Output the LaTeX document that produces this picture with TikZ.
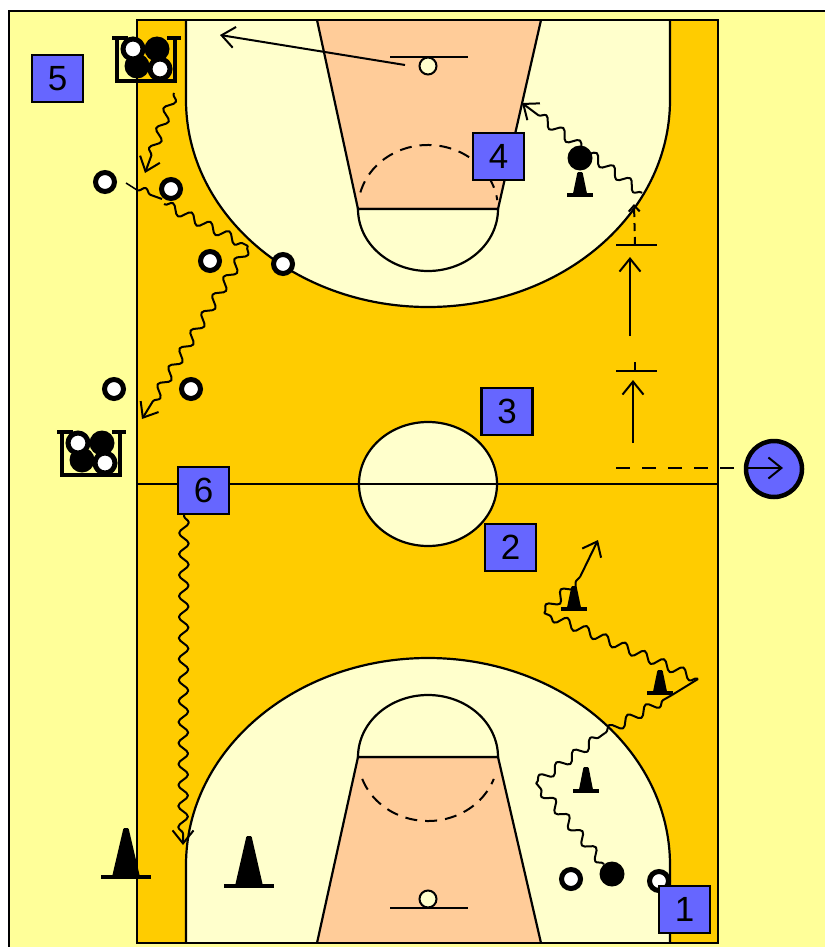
\documentclass[tikz,border=0pt]{standalone}
\usepackage{fontspec}
\setmainfont{Liberation Sans}
\usetikzlibrary{arrows.meta,decorations.pathmorphing,shapes.geometric}
\definecolor{paper}{HTML}{FFFF99}
\definecolor{court}{HTML}{FFCC00}
\definecolor{zone}{HTML}{FFFFCC}
\definecolor{keyc}{HTML}{FFCC99}
\definecolor{tag}{HTML}{6666FF}
\tikzset{
  courtline/.style={draw=black,line width=2.2pt},
  tagbox/.style={draw=black,fill=tag,line width=2.5pt,minimum width=51pt,minimum height=47pt,inner sep=0pt,font=\fontsize{35}{35}\selectfont},
  offense/.style={circle,draw=black,fill=white,line width=5pt,minimum size=19pt,inner sep=0pt},
  blackball/.style={circle,fill=black,minimum size=25pt,inner sep=0pt},
  smallwhite/.style={circle,draw=black,fill=white,line width=5pt,minimum size=20pt,inner sep=0pt},
  pass/.style={draw=black,line width=2pt,-{Straight Barb[length=13pt,width=21pt,line width=2pt]}},
  shortpass/.style={draw=black,line width=2pt,-{Straight Barb[length=6pt,width=11pt,line width=2pt]}},
  plain/.style={draw=black,line width=2pt},
  dashline/.style={draw=black,line width=2pt,dash pattern=on 14pt off 12pt},
  dribble/.style={draw=black,line width=2pt,line join=round,decorate,decoration={snake,segment length=21pt,amplitude=4.8pt,pre length=1pt,post length=2pt}},
  dribblearrow/.style={dribble,-{Straight Barb[length=13pt,width=21pt,line width=2pt]},decoration={snake,segment length=21pt,amplitude=4.8pt,pre length=1pt,post length=11pt}},
}
\newcommand{\conemark}[4]{% apex x, apex y, base y, half-width of base bar
  \fill[black,rounded corners=1pt] (#1-#4*0.56,#3) -- (#1-2.5,#2) -- (#1+2.5,#2) -- (#1+#4*0.56,#3) -- cycle;
  \draw[black,line width=4pt] (#1-#4,#3) -- (#1+#4,#3);
}
\newcommand{\basket}[3]{% x,y of the top left corner, name prefix
  \begin{scope}[shift={(#1,#2)}]
    \draw[black,line width=4.5pt] (0,0) -- (0,43) -- (58,43) -- (58,0);
    \draw[black,line width=3.5pt] (-5,0) -- (11,0) (50,0) -- (64,0);
    \node[blackball] (#3b) at (40,11) {};
    \node[blackball] (#3c) at (20,28) {};
    \node[smallwhite] (#3a) at (16,11) {};
    \node[smallwhite] (#3d) at (43,31) {};
  \end{scope}
}
\begin{document}
\begin{tikzpicture}[x=1pt,y=-1pt]
\useasboundingbox (0,0) rectangle (824,947);
\fill[white] (0,0) rectangle (824,947);
\draw[black,line width=2pt,fill=paper] (9,11) rectangle (830,955);
% court
\draw[courtline,fill=court] (137,20) rectangle (718,943);
% top three point zone
\draw[courtline,fill=zone] (186,20) -- (186,100) arc[start angle=180,end angle=360,x radius=242pt,y radius=207pt] -- (670,20);
% bottom three point zone
\draw[courtline,fill=zone] (186,943) -- (186,865) arc[start angle=180,end angle=0,x radius=242pt,y radius=207pt] -- (670,943);
% top key
\draw[courtline,fill=keyc] (317,20) -- (358,209) -- (498,209) -- (541,20);
\draw[courtline,fill=zone] (358,209) arc[start angle=180,end angle=360,x radius=70pt,y radius=62pt] -- cycle;
\draw[line width=2pt,dash pattern=on 12pt off 8pt] (428,209) ++(165:70pt and 64pt) arc[start angle=165,end angle=8,x radius=70pt,y radius=64pt];
% bottom key
\draw[courtline,fill=keyc] (317,943) -- (358,757) -- (498,757) -- (541,943);
\draw[courtline,fill=zone] (358,757) arc[start angle=180,end angle=0,x radius=70pt,y radius=62pt] -- cycle;
\draw[line width=2pt,dash pattern=on 12pt off 8pt] (428,757) ++(200:70pt and 64pt) arc[start angle=200,end angle=340,x radius=70pt,y radius=64pt];
% centre
\draw[courtline] (137,484) -- (718,484);
\draw[courtline,fill=zone] (428,484) ellipse[x radius=69pt,y radius=62pt];
\draw[courtline] (359,484) -- (497,484);
\draw[courtline] (137,20) rectangle (718,943);
% baskets
\draw[plain] (390,57) -- (468,57);
\draw[plain,fill=zone] (428,66) circle[radius=8.5pt];
\draw[plain] (390,908) -- (468,908);
\draw[plain,fill=zone] (428,899) circle[radius=8.5pt];
% cones
\conemark{126}{828}{877}{25}
\conemark{249}{836}{886}{25}
\conemark{574}{586}{609}{13}
\conemark{660}{670}{693}{13}
\conemark{586}{767}{791}{13}
\conemark{580}{172}{195}{13}
% ball bins
\basket{117}{38}{u}
\basket{62}{432}{l}
% waypoints
\coordinate (tb) at (405,65);
\coordinate (tbend) at (220,35);
\coordinate (binout) at (174,93);
\coordinate (binend) at (145,173);
\coordinate (da) at (126,183);
\coordinate (db) at (137,190);
\coordinate (dc) at (162,199);
\coordinate (e0) at (164,204);
\coordinate (e1) at (248,246);
\coordinate (e2) at (142,419);
\coordinate (f0) at (642,193);
\coordinate (f1) at (522,103);
\coordinate (h0) at (635,245);
\coordinate (h1) at (634,204);
\coordinate (t1l) at (616,245);
\coordinate (t1r) at (657,245);
\coordinate (t1u) at (635,238);
\coordinate (t2l) at (616,371);
\coordinate (t2r) at (657,371);
\coordinate (t2c) at (635,371);
\coordinate (t2u) at (635,362);
\coordinate (a1) at (630,336);
\coordinate (a2) at (630,257);
\coordinate (a3) at (633,443);
\coordinate (a4) at (633,380);
\coordinate (g0) at (616,468);
\coordinate (g1) at (745,468);
\coordinate (k1) at (536,783);
\coordinate (k2) at (605,733);
\coordinate (k3) at (672,695);
\coordinate (k4) at (698,679);
\coordinate (k5) at (544,613);
\coordinate (k6) at (580,577);
\coordinate (k7) at (598,540);
\coordinate (m0) at (184,515);
\coordinate (m1) at (183,845);
% players
\node[offense] (p1) at (105,182) {};
\node[offense] (p2) at (171,189) {};
\node[offense] (p3) at (210,261) {};
\node[offense] (p4) at (283,264) {};
\node[offense] (p5) at (114,389) {};
\node[offense] (p6) at (191,389) {};
\node[offense] (p7) at (571,879) {};
\node[offense] (p8) at (659,881) {};
\node[blackball] (b1) at (612,874) {};
\node[blackball] (b2) at (580,158) {};
% connectors
\draw[pass] (tb) -- (tbend);
\draw[dribblearrow] (binout) -- (binend);
\draw[plain,line width=1.5pt] (da) -- (db);
\draw[dribble] (db) -- (dc);
\draw[dribble] (e0) -- (e1);
\draw[dribblearrow] (e1) -- (e2);
\draw[dribblearrow] (f0) -- (f1);
\draw[shortpass,dash pattern=on 8pt off 6pt] (h0) -- (h1);
\draw[plain] (t1l) -- (t1r) (t1u) -- (h0);
\draw[plain] (t2l) -- (t2r) (t2u) -- (t2c);
\draw[pass] (a1) -- (a2);
\draw[pass] (a3) -- (a4);
\draw[dashline] (g0) -- (g1);
\draw[dribble] (b1) -- (k1);
\draw[dribble] (k1) -- (k2);
\draw[dribble] (k2) -- (k3);
\draw[plain] (k3) -- (k4);
\draw[dribble] (k4) -- (k5);
\draw[dribble] (k5) -- (k6);
\draw[pass] (k6) -- (k7);
\draw[dribblearrow] (m0) -- (m1);
% coach ball
\node[circle,draw=black,fill=tag,line width=4.5pt,minimum size=56pt,inner sep=0pt] (coach) at (774,469) {};
\coordinate (g2) at (783,468);
\draw[pass] (g1) -- (g2);
% number tags
\node[tagbox] (n5) at (57.5,78.5) {5};
\node[tagbox] (n4) at (498.5,156.5) {4};
\node[tagbox] (n3) at (507,411.5) {3};
\node[tagbox] (n6) at (203.5,490.5) {6};
\node[tagbox] (n2) at (510.5,547.5) {2};
\node[tagbox] (n1) at (684.5,909.5) {1};
\end{tikzpicture}
\end{document}
